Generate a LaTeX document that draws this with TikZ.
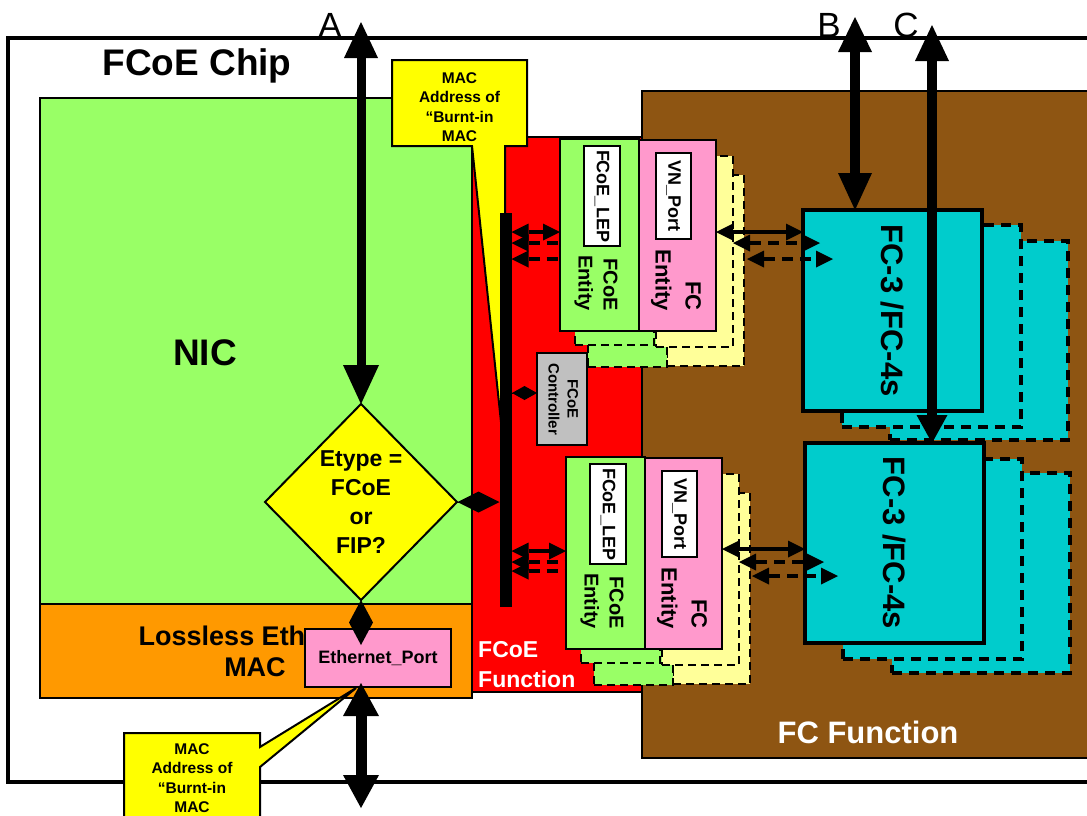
\documentclass[tikz,border=0pt]{standalone}
\usepackage{fontspec}
\setmainfont{Liberation Sans}
\usetikzlibrary{arrows.meta,shapes.geometric,calc}

\definecolor{nicgreen}{HTML}{99FF66}
\definecolor{macorange}{HTML}{FF9900}
\definecolor{fnred}{HTML}{FF0000}
\definecolor{fcbrown}{HTML}{8E5512}
\definecolor{entpink}{HTML}{FF99CC}
\definecolor{paleyellow}{HTML}{FFFF99}
\definecolor{fccyan}{HTML}{00CCCC}
\definecolor{calloutyellow}{HTML}{FFFF00}
\definecolor{ctrlgray}{HTML}{C0C0C0}

\newcommand{\setfs}[2]{\fontsize{#1}{#2}\selectfont}
\newcommand{\rottext}[1]{\rotatebox{-90}{#1}}

\tikzset{
  blk/.style={draw, line width=2pt, inner sep=0pt, outer sep=0pt},
  ent/.style={blk, line width=2.5pt},
  entshadow/.style={draw, line width=2.2pt, dash pattern=on 8pt off 5pt, inner sep=0pt, outer sep=0pt},
  fcshadow/.style={draw, line width=3.5pt, dash pattern=on 10pt off 7pt, inner sep=0pt, outer sep=0pt, fill=fccyan},
  whitebox/.style={blk, fill=white, font=\setfs{18}{22}\bfseries},
  smallarrow/.style={line width=3.5pt, arrows={Triangle[length=17pt,width=17pt,line width=0pt]-Triangle[length=17pt,width=17pt,line width=0pt]}},
  smalldash/.style={smallarrow, dash pattern=on 11pt off 7pt},
  smalldashleft/.style={line width=3.5pt, dash pattern=on 11pt off 7pt, arrows={Triangle[length=17pt,width=17pt,line width=0pt]-}},
  bigA/.style={line width=9pt, arrows={Triangle[length=39pt,width=36pt,line width=0pt]-Triangle[length=36pt,width=34pt,line width=0pt]}},
  bigB/.style={line width=10pt, arrows={Triangle[length=35pt,width=34pt,line width=0pt]-Triangle[length=37pt,width=34pt,line width=0pt]}},
  bigC/.style={line width=10pt, arrows={Triangle[length=36pt,width=34pt,line width=0pt]-Triangle[length=28pt,width=31pt,line width=0pt]}},
  bigE/.style={line width=11pt, arrows={Triangle[length=33pt,width=36pt,line width=0pt]-Triangle[length=33pt,width=36pt,line width=0pt]}},
  dconn/.style 2 args={line width=1pt, arrows={-Diamond[length=#1,width=#2,line width=0pt]}},
  callout/.style={draw, line width=2pt, fill=calloutyellow},
  callouttext/.style={font=\setfs{15.5}{19.5}\bfseries, align=center, anchor=north, inner sep=0pt},
  letter/.style={font=\setfs{35}{40}, anchor=base, inner sep=0pt},
}

\newcommand{\EntityPair}[3]{%
\begin{scope}[shift={(#1,#2)}]
  \node[entshadow, fill=paleyellow, minimum width=77pt, minimum height=191pt] (fcs2#3) at (705.5,270.5) {};
  \node[entshadow, fill=nicgreen, minimum width=79pt, minimum height=192pt] (gs2#3) at (627.5,271) {};
  \node[entshadow, fill=paleyellow, minimum width=77pt, minimum height=191pt] (fcs1#3) at (694.5,251.5) {};
  \node[entshadow, fill=nicgreen, minimum width=79pt, minimum height=192pt] (gs1#3) at (614.5,249) {};
  \node[ent, fill=nicgreen, minimum width=79pt, minimum height=192pt] (fcoe#3) at (599.5,235) {};
  \node[ent, fill=entpink, minimum width=77pt, minimum height=191pt] (fc#3) at (677.5,235.5) {};
  \node[whitebox, minimum width=36pt, minimum height=100pt] (lep#3) at (602,196) {\rottext{FCoE\_LEP}};
  \node[whitebox, minimum width=35pt, minimum height=86pt] (vn#3) at (673.5,196) {\rottext{VN\_Port}};
  \node[font=\setfs{20}{25}\bfseries, rotate=-90, anchor=east, align=right, inner sep=0pt] (fcoet#3) at (596,311) {FCoE\\Entity};
  \node[font=\setfs{22}{30}\bfseries, rotate=-90, anchor=east, align=right, inner sep=0pt] (fct#3) at (676,311) {FC\\Entity};
\end{scope}}

\begin{document}
\begin{tikzpicture}[x=1pt, y=-1pt]
\useasboundingbox (0,0) rectangle (1087,815);
\clip (0,0) rectangle (1087,815);

% chip outline
\node[blk, line width=4.5pt, fill=white, minimum width=1090pt, minimum height=744pt] (chip) at (553,410) {};
\node[font=\setfs{37}{40}\bfseries, anchor=base, inner sep=0pt] (chiptitle) at (197,75) {FCoE Chip};

% FC function (brown)
\node[blk, fill=fcbrown, minimum width=450pt, minimum height=667pt] (fcfn) at (867,424.5) {};
\node[font=\setfs{31}{36}\bfseries, text=white, inner sep=0pt] (fcfntext) at (868,732) {FC Function};

% FCoE function (red)
\node[blk, line width=1.5pt, fill=fnred, minimum width=170pt, minimum height=555pt] (fcoefn) at (557,414.5) {};
\node[font=\setfs{23}{30}\bfseries, text=white, align=left, anchor=north west, inner sep=0pt] (fcoefntext) at (478,641) {FCoE\\Function};

% NIC and MAC
\node[blk, fill=nicgreen, minimum width=432pt, minimum height=506pt] (nic) at (256,351) {};
\node[font=\setfs{37}{40}\bfseries, anchor=base, inner sep=0pt] (nictext) at (205,365) {NIC};
\node[blk, fill=macorange, minimum width=432pt, minimum height=94pt] (mac) at (256,651) {};
\node[font=\setfs{27}{31}\bfseries, align=center, inner sep=0pt] (mactext) at (255,651) {Lossless Ethernet\\MAC};

% top callout
\path[callout] (392,60) -- (527,60) -- (527,146) -- (505,146) -- (505,460) -- (472,146) -- (392,146) -- cycle;
\node[callouttext] (macaddr1) at (459.5,72) {MAC\\Address of\\“Burnt-in\\MAC};

% black bar
\node[fill=black, minimum width=12pt, minimum height=394pt, inner sep=0pt, outer sep=0pt] (bar) at (505.5,410) {};

% entity pairs
\EntityPair{0}{0}{A}
\EntityPair{6}{318}{B}

% FCoE controller
\node[blk, line width=2.5pt, fill=ctrlgray, minimum width=50pt, minimum height=92pt] (ctrl) at (562,399)
  {\rottext{\setfs{15}{19}\bfseries\begin{tabular}{@{}c@{}}FCoE\\Controller\end{tabular}}};

% FC-3 / FC-4 boxes
\node[fcshadow, minimum width=178pt, minimum height=199pt] (fc3s2A) at (979,340.5) {};
\node[fcshadow, minimum width=179pt, minimum height=202pt] (fc3s1A) at (931.5,326) {};
\node[blk, line width=4pt, fill=fccyan, minimum width=179pt, minimum height=201pt, font=\setfs{31}{36}\bfseries] (fc3A) at (892.5,310.5) {\rottext{FC-3 /FC-4s}};
\node[fcshadow, minimum width=178pt, minimum height=200pt] (fc3s2B) at (981,573) {};
\node[fcshadow, minimum width=179pt, minimum height=200pt] (fc3s1B) at (932.5,559) {};
\node[blk, line width=4pt, fill=fccyan, minimum width=179pt, minimum height=200pt, font=\setfs{31}{36}\bfseries] (fc3B) at (894.5,543) {\rottext{FC-3 /FC-4s}};

% bar <-> FCoE entities
\draw[smallarrow] ([yshift=178pt]bar.east) -- ([yshift=3pt]fcoeA.west);
\draw[smalldashleft] ([yshift=167pt]bar.east) -- ([yshift=-8pt]fcoeA.west);
\draw[smalldashleft] ([yshift=151pt]bar.east) -- ([yshift=-24pt]fcoeA.west);
\draw[smallarrow] ([yshift=-141pt]bar.east) -- ([yshift=2pt]fcoeB.west);
\draw[smalldashleft] ([yshift=-152pt]bar.east) -- ([yshift=-9pt]fcoeB.west);
\draw[smalldashleft] ([yshift=-161pt]bar.east) -- ([yshift=-18pt]fcoeB.west);

% FC entities <-> FC-3
\draw[smallarrow] ([yshift=3.5pt]fcA.east) -- ([yshift=78.5pt]fc3A.west);
\draw[smalldash] ([yshift=8.5pt]fcs1A.east) -- ([xshift=17pt,yshift=67.5pt]fc3A.west);
\draw[smalldash] ([xshift=3pt,yshift=11.5pt]fcs2A.east) -- ([xshift=30pt,yshift=51.5pt]fc3A.west);
\draw[smallarrow] ([yshift=4.5pt]fcB.east) -- ([yshift=-6pt]fc3B.west);
\draw[smalldash] ([yshift=7.5pt]fcs1B.east) -- ([xshift=19pt,yshift=-19pt]fc3B.west);
\draw[smalldash] ([xshift=2pt,yshift=12.5pt]fcs2B.east) -- ([xshift=33pt,yshift=-33pt]fc3B.west);

% Etype decision
\node[draw, line width=2pt, fill=calloutyellow, shape=diamond, minimum width=192pt, minimum height=196pt, inner sep=0pt, outer sep=0pt, font=\setfs{23}{29}\bfseries, align=center] (etype) at (361,502) {Etype =\\FCoE\\or\\FIP?};

% Ethernet port
\node[blk, fill=entpink, minimum width=146pt, minimum height=58pt, font=\setfs{18}{22}\bfseries] (eport) at (378,658) {Ethernet\_Port};

% diamond connectors
\draw[dconn={42pt}{21pt}] (etype.east) -- ([yshift=-92pt]bar.west);
\draw[dconn={45pt}{24pt}] (etype.south) -- ([xshift=-17pt,yshift=-16pt]eport.north);
\draw[dconn={25pt}{14pt}] ([yshift=17pt]bar.east) -- ([yshift=6pt]ctrl.west);

% bottom callout
\path[callout] (124,733) -- (260,733) -- (260,747) -- (356,688) -- (260,767) -- (260,830) -- (124,830) -- cycle;
\node[callouttext] (macaddr2) at (192,743) {MAC\\Address of\\“Burnt-in\\MAC};

% big arrows
\coordinate (Atop) at (361,22);
\coordinate (Btop) at (855,17);
\coordinate (Ctop) at (932,25);
\coordinate (Ebot) at (361,808);
\draw[bigA] (etype.north) -- (Atop);
\draw[bigB] (Btop) -- ([xshift=-37.5pt]fc3A.north);
\draw[bigC] (Ctop) -- ([xshift=37.5pt]fc3B.north);
\draw[bigE] ([xshift=-17pt,yshift=4pt]eport.south) -- (Ebot);

% labels
\node[letter] (labA) at (330,37) {A};
\node[letter] (labB) at (829,37) {B};
\node[letter] (labC) at (906,37) {C};
\end{tikzpicture}
\end{document}
